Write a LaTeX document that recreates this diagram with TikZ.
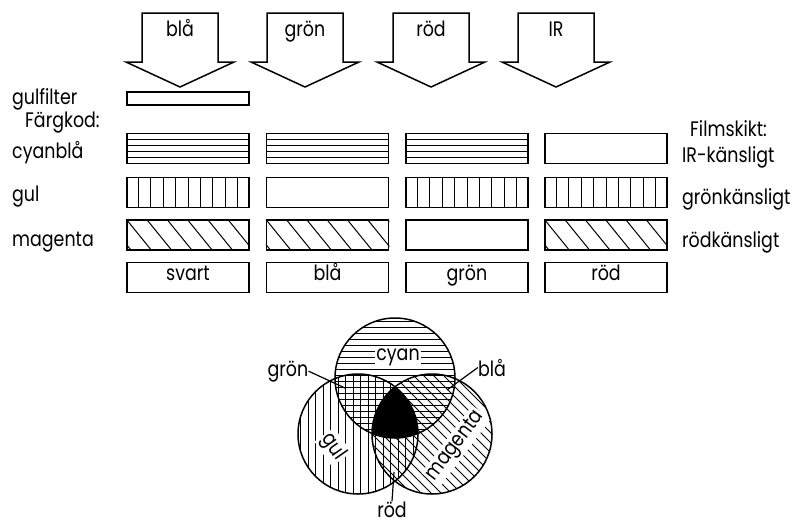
\documentclass[tikz,border=0pt]{standalone}
\usepackage{fontspec}
\setmainfont{Poppins}[FakeStretch=0.83]
\usetikzlibrary{calc,positioning}

\tikzset{
  lightarrow/.pic={
    \draw[line width=1.5pt,line join=miter]
      (-38,0) -- (38,0) -- (38,49) -- (54,49) -- (0,74)
      -- (-54,49) -- (-38,49) -- cycle;
  }
}

\begin{document}
\begin{tikzpicture}[x=1pt,y=-1pt,
  font=\fontsize{21}{24}\selectfont,
  filterband/.style={draw,line width=1.5pt,minimum width=122pt,
    minimum height=30pt,inner sep=0pt,text height=0.75em,text depth=0.25em},
  hatch/.style={line width=1pt},
  sidelabel/.style={anchor=base west,inner sep=0pt},
  textlabel/.style={anchor=base,inner sep=0pt},
  circlelabel/.style={fill=white,inner sep=1.5pt},
  ring/.style={draw,line width=1.5pt},
  pointer/.style={line width=1.2pt}
]
  \useasboundingbox (0,0) rectangle (810,525);

  % incoming light
  \pic at (180,13) {lightarrow};
  \pic at (305,13) {lightarrow};
  \pic at (431,13) {lightarrow};
  \pic at (556,13) {lightarrow};
  \node[textlabel] (inblue) at (180,36) {blå};
  \node[textlabel] (ingreen) at (305,36) {grön};
  \node[textlabel] (inred) at (431,36) {röd};
  \node[textlabel] (inir) at (556,36) {IR};

  % layer names
  \node[sidelabel] (filtername) at (12,104) {gulfilter};
  \node[sidelabel] (codename) at (25,127) {Färgkod:};
  \node[sidelabel] (cyanname) at (12,158) {cyanblå};
  \node[sidelabel] (yellowname) at (12,201) {gul};
  \node[sidelabel] (magentaname) at (12,246) {magenta};
  \node[sidelabel] (filmname) at (690,136) {Filmskikt:};
  \node[sidelabel] (irname) at (682,162) {IR-känsligt};
  \node[sidelabel] (greenname) at (682,204) {grönkänsligt};
  \node[sidelabel] (redname) at (682,247) {rödkänsligt};

  % film layers
  \node[filterband,minimum height=13pt] (filter) at (188,98.5) {};
  \node[filterband] (cyanA) at (188,148.5) {};
  \node[filterband] (cyanB) at (327.5,148.5) {};
  \node[filterband] (cyanC) at (467,148.5) {};
  \node[filterband] (cyanD) at (606,148.5) {};
  \node[filterband] (yellowA) at (188,192.5) {};
  \node[filterband] (yellowB) at (327.5,192.5) {};
  \node[filterband] (yellowC) at (467,192.5) {};
  \node[filterband] (yellowD) at (606,192.5) {};
  \node[filterband] (magentaA) at (188,235) {};
  \node[filterband] (magentaB) at (327.5,235) {};
  \node[filterband] (magentaC) at (467,235) {};
  \node[filterband] (magentaD) at (606,235) {};
  \node[filterband] (outA) at (188,277.5) {svart};
  \node[filterband] (outB) at (327.5,277.5) {blå};
  \node[filterband] (outC) at (467,277.5) {grön};
  \node[filterband] (outD) at (606,277.5) {röd};

  \foreach \b in {cyanA,cyanB,cyanC}
    \foreach \k in {1,...,4}
      \draw[hatch] ($(\b.north west)!\k/5!(\b.south west)$)
        -- ($(\b.north east)!\k/5!(\b.south east)$);
  \foreach \b in {yellowA,yellowC,yellowD}
    \foreach \k in {1,...,9}
      \draw[hatch] ($(\b.north west)!\k/10!(\b.north east)$)
        -- ($(\b.south west)!\k/10!(\b.south east)$);
  \foreach \b in {magentaA,magentaB,magentaD} {
    \begin{scope}
      \clip (\b.north west) rectangle (\b.south east);
      \foreach \k in {-1,...,6}
        \draw[hatch] ($(\b.north west)+(\k*20.3,0)$) -- ++(26,32);
    \end{scope}
  }

  % colour circles
  \coordinate (cyanc) at (395,378);
  \coordinate (yellowc) at (358,434);
  \coordinate (magentac) at (432,434);
  \begin{scope}
    \clip (cyanc) circle[radius=60pt];
    \foreach \y in {321,327,...,438}
      \draw[hatch] (330,\y) -- (460,\y);
  \end{scope}
  \begin{scope}
    \clip (yellowc) circle[radius=60pt];
    \foreach \x in {300.5,308,...,418}
      \draw[hatch] (\x,370) -- (\x,500);
  \end{scope}
  \begin{scope}
    \clip (magentac) circle[radius=60pt];
    \foreach \d in {-120,-110,...,120}
      \draw[hatch] (432+\d-70,364) -- (432+\d+70,504);
  \end{scope}
  \begin{scope}
    \clip (yellowc) circle[radius=60pt];
    \clip (magentac) circle[radius=60pt];
    \fill (cyanc) circle[radius=60pt];
  \end{scope}
  \node[circlelabel,anchor=base] (cyanmix) at (398,360) {cyan};
  \node[circlelabel,rotate=-55] (yellowmix) at (333,447) {gul};
  \node[circlelabel,rotate=53] (magentamix) at (456,446) {magenta};
  \draw[ring] (cyanc) circle[radius=60pt];
  \draw[ring] (yellowc) circle[radius=60pt];
  \draw[ring] (magentac) circle[radius=60pt];

  % mixed colours
  \node[textlabel] (greenmix) at (288,376) {grön};
  \node[textlabel] (bluemix) at (492,376) {blå};
  \node[textlabel] (redmix) at (392,517) {röd};
  \coordinate (greenspot) at (345,388);
  \coordinate (bluespot) at (447,390);
  \coordinate (redspot) at (394,472);
  \draw[pointer] (greenmix.east) -- (greenspot);
  \draw[pointer] (bluemix.west) -- (bluespot);
  \draw[pointer] (redmix.north) -- (redspot);
\end{tikzpicture}
\end{document}
